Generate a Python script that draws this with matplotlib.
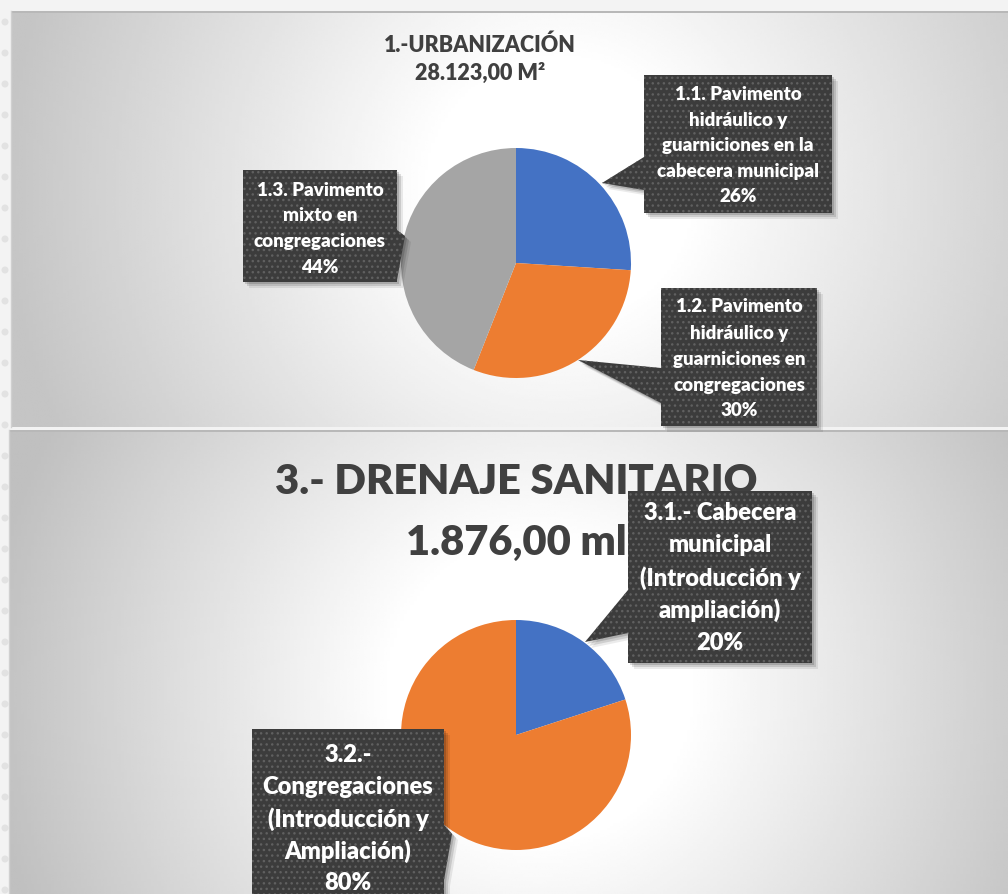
import numpy as np
import matplotlib
matplotlib.use("Agg")
import matplotlib.pyplot as plt
from matplotlib.patches import Polygon, Rectangle, Circle

W, H = 1008, 894

# ---------------- data ----------------
urb_title = ["1.-URBANIZACIÓN", "28.123,00 M²"]
urb_labels = ["1.1. Pavimento\nhidráulico y\nguarniciones en la\ncabecera municipal",
              "1.2. Pavimento\nhidráulico y\nguarniciones en\ncongregaciones",
              "1.3. Pavimento\nmixto en\ncongregaciones"]
urb_values = [26, 30, 44]

dren_title = ["3.- DRENAJE SANITARIO", "1.876,00 ml"]
dren_labels = ["3.1.- Cabecera\nmunicipal\n(Introducción y\nampliación)",
               "3.2.-\nCongregaciones\n(Introducción y\nAmpliación)"]
dren_values = [20, 80]

slice_colors = ["#4472C4", "#ED7D31", "#A5A5A5"]

FONT = ["Lato", "DejaVu Sans"]
plt.rcParams["font.family"] = FONT
WEIGHT = "heavy"

fig = plt.figure(figsize=(W / 100, H / 100), dpi=100)
fig.patch.set_facecolor("#f3f3f3")
ax = fig.add_axes([0, 0, 1, 1])
ax.axis("off")


def Y(y):
    return H - y


# ---------------- panel backgrounds ----------------
def panel(x0, y0, x1, y1, cx, cy, r_in, r_out, dark):
    xs = np.linspace(x0, x1, 300)
    ys = np.linspace(y0, y1, 200)
    X, YY = np.meshgrid(xs, ys)
    d = np.sqrt((X - cx) ** 2 + (YY - cy) ** 2)
    t = np.clip((d - r_in) / (r_out - r_in), 0, 1)
    val = 1.0 - (1.0 - dark) * t
    ax.imshow(val, extent=(x0, x1, Y(y1), Y(y0)), cmap="gray", vmin=0, vmax=1,
              interpolation="bilinear", origin="upper", zorder=1, aspect="auto")
    ax.add_patch(Rectangle((x0, Y(y0) - 2), x1 - x0, 2, facecolor="#b8b8b8",
                           edgecolor="none", zorder=1.5))
    ax.plot([x0, x0], [Y(y0), Y(y1)], color="#d0d0d0", lw=1, zorder=1.5)


# faint dots on the left margin
for yy in range(22, H, 31):
    ax.add_patch(Circle((5, Y(yy)), 3.5, facecolor="#e2e2e2", edgecolor="none", zorder=0.5))

panel(11, 11, W, 427, 560, 190, 130, 560, 0.77)
panel(9, 430, W, H, 540, 690, 150, 560, 0.75)

# ---------------- titles ----------------
for i, line in enumerate(urb_title):
    ax.text(480, Y(45 + i * 28), line, ha="center", va="center", fontsize=15.5,
            fontweight=WEIGHT, color="#404040", zorder=3)
for i, line in enumerate(dren_title):
    ax.text(516, Y(482 + i * 61), line, ha="center", va="center", fontsize=30,
            fontweight=WEIGHT, color="#404040", zorder=3)

# ---------------- pies ----------------
ax.pie(urb_values, colors=slice_colors[:3], startangle=90, counterclock=False,
       center=(516, Y(263)), radius=115, wedgeprops=dict(linewidth=0, zorder=4),
       frame=False)
ax.pie(dren_values, colors=slice_colors[:2], startangle=90, counterclock=False,
       center=(516, Y(735)), radius=115, wedgeprops=dict(linewidth=0, zorder=4),
       frame=False)


# ---------------- callouts ----------------
def callout(box, base, tip, side, text, fs, first, step):
    x0, y0, x1, y1 = box
    if side == "left":
        pts = [(x0, y0), (x1, y0), (x1, y1), (x0, y1), (x0, base[1]), tip, (x0, base[0])]
    else:
        pts = [(x0, y0), (x1, y0), (x1, base[0]), tip, (x1, base[1]), (x1, y1), (x0, y1)]
    pts = [(px, Y(py)) for px, py in pts]
    for off, a in [(6, 0.08), (4, 0.12), (2, 0.15)]:
        sh = [(px + off, py - off) for px, py in pts]
        ax.add_patch(Polygon(sh, closed=True, facecolor="black", alpha=a,
                             edgecolor="none", zorder=5))
    ax.add_patch(Polygon(pts, closed=True, facecolor="#3c3c3c", edgecolor="none", zorder=6))
    ax.add_patch(Polygon(pts, closed=True, facecolor="none", edgecolor="#606060",
                         linewidth=0, hatch="...", zorder=6.5))
    cx = (x0 + x1) / 2
    for i, line in enumerate(text.split("\n")):
        ax.text(cx, Y(first + i * step), line, ha="center", va="center",
                fontsize=fs, fontweight=WEIGHT, color="white", zorder=7)


urb_txt = [f"{l}\n{v}%" for l, v in zip(urb_labels, urb_values)]
dren_txt = [f"{l}\n{v}%" for l, v in zip(dren_labels, dren_values)]

callout((644, 75, 832, 213), (157, 190), (602, 183), "left", urb_txt[0], 13.5, 95, 25.5)
callout((661, 288, 817, 426), (368, 403), (578, 360), "left", urb_txt[1], 13.5, 307, 26)
callout((243, 170, 397, 282), (230, 280), (405, 236), "right", urb_txt[2], 13.5, 190, 25.7)
callout((628, 491, 812, 663), (590, 633), (585, 642), "left", dren_txt[0], 17, 513, 32.5)
callout((252, 729, 444, 905), (825, 880), (452, 834), "right", dren_txt[1], 17, 755, 32)

ax.set_xlim(0, W)
ax.set_ylim(0, H)
ax.set_aspect("auto")

fig.savefig("out.png", dpi=100, facecolor=fig.get_facecolor())
